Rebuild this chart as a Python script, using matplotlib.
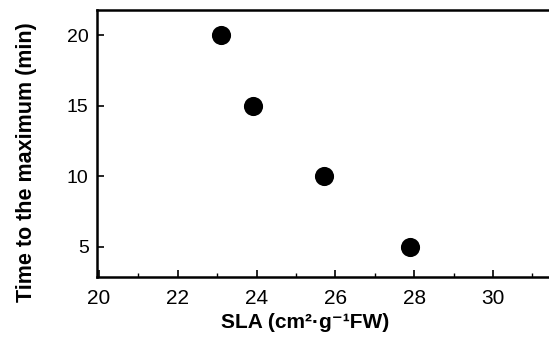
import matplotlib
matplotlib.use("Agg")
import matplotlib.pyplot as plt
from matplotlib.ticker import MultipleLocator

plt.rcParams['font.family'] = ['Liberation Sans', 'DejaVu Sans']

# data
sla = [23.1, 23.9, 25.7, 27.9]
time_max = [20, 15, 10, 5]
x_ticks = [20, 22, 24, 26, 28, 30]
y_ticks = [5, 10, 15, 20]

fig = plt.figure(figsize=(5.49, 3.38), dpi=100)
ax = fig.add_axes([0.1767, 0.1805, 0.8233, 0.7899])

ax.scatter(sla, time_max, s=190, color='black', zorder=3, linewidths=0)

ax.set_xlim(19.95, 31.42)
ax.set_ylim(2.87, 21.8)
ax.set_xticks(x_ticks)
ax.set_yticks(y_ticks)
ax.xaxis.set_minor_locator(MultipleLocator(1))

ax.tick_params(axis='x', which='major', direction='in', length=5, width=1.2,
               labelsize=15, pad=9)
ax.tick_params(axis='y', which='major', direction='in', length=5, width=1.2,
               labelsize=14, pad=6)
ax.tick_params(axis='x', which='minor', direction='in', length=3, width=1.0)
ax.tick_params(axis='y', which='minor', left=False)

ax.spines['right'].set_visible(False)
for s in ['left', 'bottom', 'top']:
    ax.spines[s].set_linewidth(1.8)

ax.set_xlabel('SLA (cm²·g⁻¹FW)', fontsize=15, fontweight='bold')
ax.set_ylabel('Time to the maximum (min)', fontsize=15.5, fontweight='bold')
ax.xaxis.set_label_coords(0.46, -0.135)
ax.yaxis.set_label_coords(-0.133, 0.43)

fig.savefig('out.png', dpi=100)
